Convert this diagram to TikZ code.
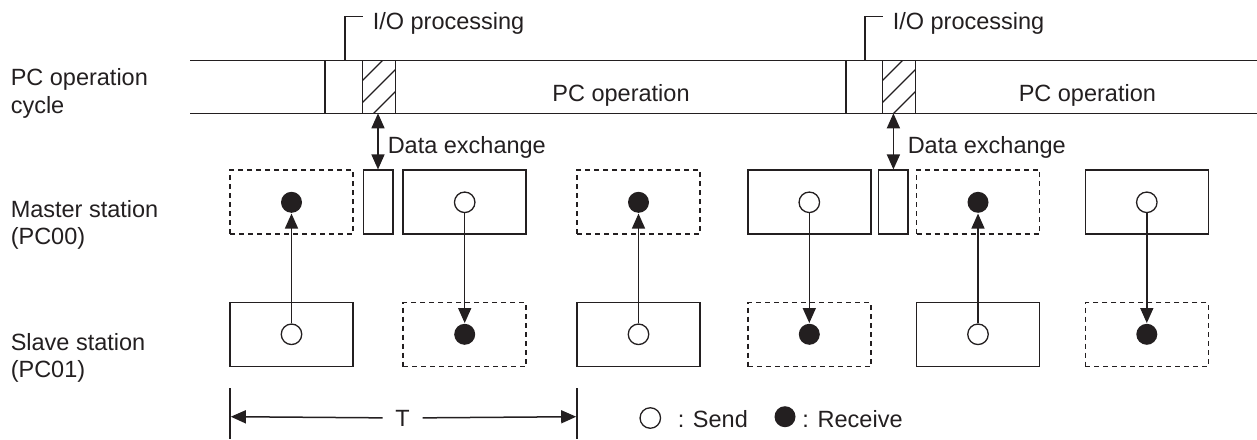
\documentclass[tikz,border=0pt]{standalone}
\usepackage{fontspec}
\setmainfont{Liberation Sans}
\usetikzlibrary{arrows.meta}
\definecolor{ink}{RGB}{35,31,32}
\begin{document}
\begin{tikzpicture}[x=1pt,y=-1pt,line width=1.5pt,draw=ink,
  >={Triangle[length=15pt,width=13pt]},
  box/.style={draw=ink,line width=1.5pt,minimum width=123pt,minimum height=64pt,inner sep=0pt},
  dbox/.style={box,dash pattern=on 5pt off 4pt},
  smallbox/.style={draw=ink,line width=1.5pt,minimum width=29.5pt,minimum height=64pt,inner sep=0pt},
  sndc/.style={circle,draw=ink,fill=white,minimum size=20.5pt,inner sep=0pt,line width=1.3pt},
  rcvc/.style={circle,fill=ink,minimum size=21pt,inner sep=0pt},
  lbl/.style={anchor=base west,inner sep=0pt,text=ink,font=\fontsize{23.5}{28}\selectfont},
  hatch/.style={line width=1.2pt}]
\useasboundingbox (0,0) rectangle (1257,439);

% left labels
\node[lbl] (lpc1) at (10,85) {PC operation};
\node[lbl] (lpc2) at (10,113) {cycle};
\node[lbl] (lms1) at (10,217) {Master station};
\node[lbl] (lms2) at (10,244) {(PC00)};
\node[lbl] (lsl1) at (10,350) {Slave station};
\node[lbl] (lsl2) at (10,377) {(PC01)};

% operation band
\draw (190,60.7) -- (1257,60.7);
\draw (190,113.3) -- (1257,113.3);
\foreach \x in {325,362.3,395.7,846,882.3,915.7} \draw (\x,60.7) -- (\x,113.3);
\begin{scope}
  \clip (362.3,60.7) rectangle (395.7,113.3);
  \foreach \c in {443,465,487} \draw[hatch] (\c-120,120) -- (\c-50,50);
\end{scope}
\begin{scope}
  \clip (882.3,60.7) rectangle (915.7,113.3);
  \foreach \c in {963,985,1007} \draw[hatch] (\c-120,120) -- (\c-50,50);
\end{scope}
\node[lbl] (op1) at (551.7,101.7) {PC operation};
\node[lbl] (op2) at (1018,101.7) {PC operation};

% I/O processing brackets
\node[lbl] (io1) at (372,29.5) {I/O processing};
\node[lbl] (io2) at (892,29.5) {I/O processing};
\draw (345,60.7) -- (345,16.7) -- (363,16.7);
\draw (865,60.7) -- (865,16.7) -- (883,16.7);

% master row
\node[dbox] (M1) at (291.5,202.2) {};
\node[smallbox] (sm1) at (378,202.2) {};
\node[box] (M2) at (464.7,202.2) {};
\node[dbox] (M3) at (638.5,202.2) {};
\node[box] (M4) at (809.3,202.2) {};
\node[smallbox] (sm2) at (893.4,202.2) {};
\node[dbox] (M5) at (978,202.2) {};
\node[box] (M6) at (1146.8,202.2) {};

% slave row
\node[box] (S1) at (291.5,334.5) {};
\node[dbox] (S2) at (464.7,334.5) {};
\node[box] (S3) at (638.5,334.5) {};
\node[dbox] (S4) at (809.3,334.5) {};
\node[box] (S5) at (978,334.5) {};
\node[dbox] (S6) at (1146.8,334.5) {};

% circles
\node[rcvc] (mc1) at (291.5,202.3) {};
\node[sndc] (mc2) at (464.7,202.3) {};
\node[rcvc] (mc3) at (638.5,202.3) {};
\node[sndc] (mc4) at (809.3,202.3) {};
\node[rcvc] (mc5) at (978,202.3) {};
\node[sndc] (mc6) at (1146.8,202.3) {};
\node[sndc] (sc1) at (291.5,334.3) {};
\node[rcvc] (sc2) at (464.7,334.3) {};
\node[sndc] (sc3) at (638.5,334.3) {};
\node[rcvc] (sc4) at (809.3,334.3) {};
\node[sndc] (sc5) at (978,334.3) {};
\node[rcvc] (sc6) at (1146.8,334.3) {};

% transfers
\draw[->] (sc1) -- (mc1);
\draw[->] (mc2) -- (sc2);
\draw[->] (sc3) -- (mc3);
\draw[->] (mc4) -- (sc4);
\draw[->] (sc5) -- (mc5);
\draw[->] (mc6) -- (sc6);

% data exchange
\coordinate (dx1) at (378,113.3);
\coordinate (dx2) at (893.4,113.3);
\draw[<->] (dx1) -- (sm1.north);
\draw[<->] (dx2) -- (sm2.north);
\node[lbl] (de1) at (387,153) {Data exchange};
\node[lbl] (de2) at (907,153) {Data exchange};

% T dimension
\coordinate (tlt) at (230,388);
\coordinate (tlb) at (230,439);
\coordinate (trt) at (577,388);
\coordinate (trb) at (577,439);
\draw (tlt) -- (tlb);
\draw (trt) -- (trb);
\coordinate (tl) at (230.8,416.7);
\coordinate (tr) at (576.2,416.7);
\node[inner sep=0pt,minimum width=38.5pt,minimum height=20pt,text=ink,font=\fontsize{23.5}{28}\selectfont] (T) at (402.5,418) {T};
\draw[->] (T) -- (tl);
\draw[->] (T) -- (tr);

% legend
\node[sndc] (lg1) at (650.3,418) {};
\node[lbl] (lgs) at (677,427.3) {: Send};
\node[rcvc] (lg2) at (785,416.7) {};
\node[lbl] (lgr) at (801.7,427.3) {: Receive};
\end{tikzpicture}
\end{document}
